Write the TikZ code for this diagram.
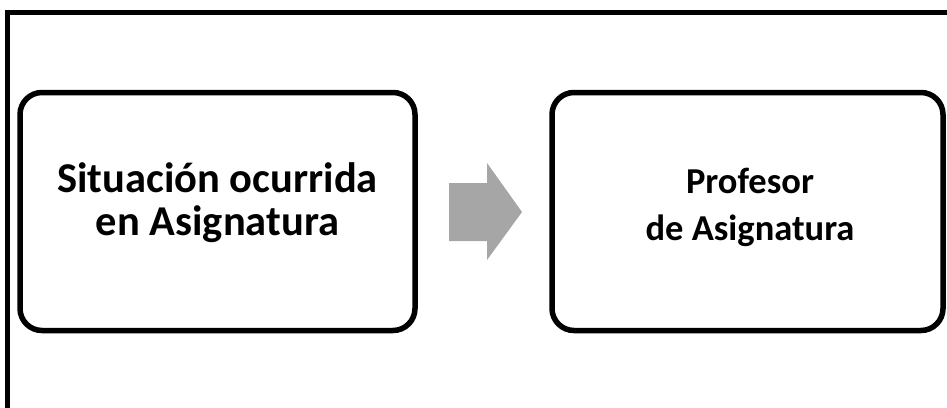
\documentclass[tikz,border=0pt]{standalone}
\usepackage{fontspec}
\setmainfont{Carlito}
\definecolor{arrowgray}{HTML}{A6A6A6}
\tikzset{
  stagebox/.style={draw=black, line width=5.5pt, rounded corners=22pt, fill=white, inner sep=0pt},
  stagetext/.style={align=center, text=black, inner sep=0pt},
}
\begin{document}
\begin{tikzpicture}[x=1pt,y=-1pt]
\useasboundingbox (0,0) rectangle (947,407);
% outer frame (open at right and bottom)
\draw[line width=5pt] (7.5,410) -- (7.5,12.5) -- (950,12.5);
% boxes
\node[stagebox, minimum width=395pt, minimum height=238pt] (left) at (217.5,211.5) {};
\node[stagebox, minimum width=391pt, minimum height=238pt] (right) at (747.5,211.5) {};
% texts
\node[stagetext, font=\fontsize{42.5}{43}\selectfont\bfseries] (lefttext) at (217.5,203) {Situación ocurrida\\en Asignatura};
\node[stagetext, font=\fontsize{36.5}{47}\selectfont\bfseries] (righttext) at (750,207) {Profesor\\de Asignatura};
% block arrow
\fill[arrowgray] (449,183) -- (487,183) -- (487,163) -- (522,212) -- (487,260) -- (487,241) -- (449,241) -- cycle;
\end{tikzpicture}
\end{document}
